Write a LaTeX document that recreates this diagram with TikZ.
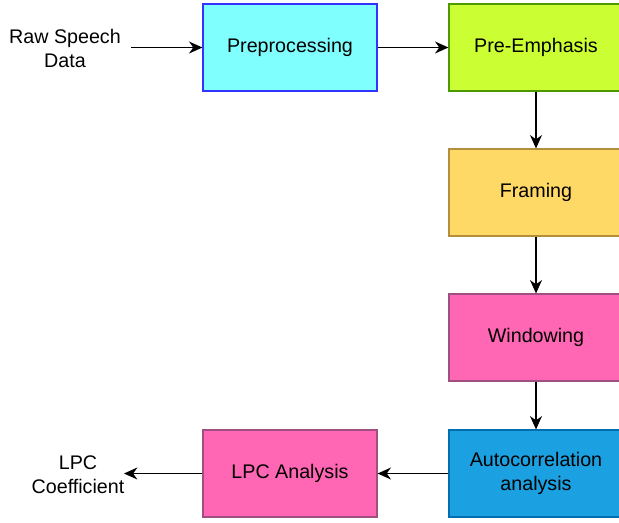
\documentclass[tikz,border=0pt]{standalone}
\usepackage{fontspec}
\setmainfont{Liberation Sans}
\usetikzlibrary{arrows.meta}
\definecolor{cyanfill}{HTML}{80FFFF}
\definecolor{cyanline}{HTML}{3333FF}
\definecolor{limefill}{HTML}{CCFF33}
\definecolor{limeline}{HTML}{4D9900}
\definecolor{yellowfill}{HTML}{FFD966}
\definecolor{yellowline}{HTML}{B38F3D}
\definecolor{pinkfill}{HTML}{FF66B3}
\definecolor{pinkline}{HTML}{A05080}
\definecolor{bluefill}{HTML}{1BA1E2}
\definecolor{blueline}{HTML}{006EAF}

\begin{document}
\begin{tikzpicture}[x = 0.025cm, y = -0.025cm, line width = 1pt,
                        block/.style = {rectangle, draw, line width = 0.8pt, minimum width = 4.35cm,
                                        minimum height = 2.175cm, align = center,
                                        font = \fontsize{14}{17}\selectfont},
                        plain/.style = {align = center, font = \fontsize{14}{17}\selectfont},
                        flow/.style = {-{Stealth[length = 9.5pt, width = 8.5pt, inset = 3pt]}}]
      \useasboundingbox (0, 0) rectangle (619, 522);
      \node [plain] (raw) at (65, 48.5){Raw Speech\\Data};
      \node [block, fill=cyanfill, draw=cyanline] (pre) at (290, 47.5){\raisebox{-1pt}{Preprocessing}};
      \node [block, fill=limefill, draw=limeline] (emph) at (536, 47.5){\raisebox{-1pt}{Pre-Emphasis}};
      \node [block, fill=yellowfill, draw=yellowline] (frame) at (536, 192.5){\raisebox{-1pt}{Framing}};
      \node [block, fill=pinkfill, draw=pinkline] (win) at (536, 337.5){\raisebox{-1pt}{Windowing}};
      \node [block, fill=bluefill, draw=blueline] (auto) at (536, 473.5){Autocorrelation\\analysis};
      \node [block, fill=pinkfill, draw=pinkline] (lpc) at (290, 473.5){\raisebox{-1pt}{LPC Analysis}};
      \node [plain] (coef) at (78, 474.5){LPC\\Coefficient};
      \coordinate (rawend) at (131, 47.5);
      \coordinate (coefend) at (124, 473.5);
      \draw [flow] (rawend) -- (pre);
      \draw [flow] (pre) -- (emph);
      \draw [flow] (emph) -- (frame);
      \draw [flow] (frame) -- (win);
      \draw [flow] (win) -- (auto);
      \draw [flow] (auto) -- (lpc);
      \draw [flow] (lpc) -- (coefend);
    \end{tikzpicture}
\end{document}
